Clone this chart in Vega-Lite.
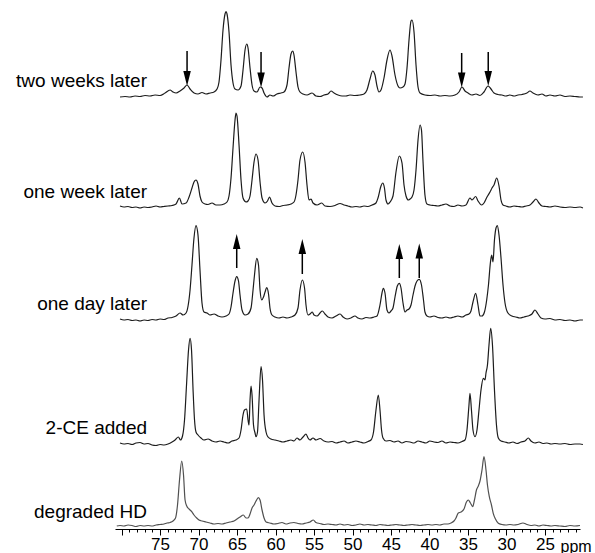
{
"$schema": "https://vega.github.io/schema/vega-lite/v6.json",
"width": 465, "height": 529,
"autosize": {"type": "none"},
"padding": {"left": 115, "top": 0, "right": 15, "bottom": 24},
"background": "white",
"config": {"view": {"stroke": null}},
"datasets": {
"spec": [
{"s":"A","x":80.20,"y":432},{"s":"A","x":79.55,"y":432.5},{"s":"A","x":78.90,"y":432},{"s":"A","x":78.25,"y":433},{"s":"A","x":77.60,"y":432.5},{"s":"A","x":76.95,"y":433.5},{"s":"A","x":76.30,"y":433},{"s":"A","x":75.65,"y":434},{"s":"A","x":75.00,"y":433.5},{"s":"A","x":74.35,"y":436},{"s":"A","x":73.70,"y":439},{"s":"A","x":73.31,"y":437},{"s":"A","x":72.92,"y":436},{"s":"A","x":72.40,"y":438},{"s":"A","x":71.88,"y":441},{"s":"A","x":71.49,"y":444},{"s":"A","x":71.10,"y":440},{"s":"A","x":70.58,"y":436},{"s":"A","x":70.07,"y":435},{"s":"A","x":69.55,"y":436.5},{"s":"A","x":69.03,"y":435},{"s":"A","x":68.51,"y":436},{"s":"A","x":67.99,"y":437},{"s":"A","x":67.60,"y":440},{"s":"A","x":67.34,"y":447},{"s":"A","x":67.08,"y":469},{"s":"A","x":66.82,"y":499},{"s":"A","x":66.56,"y":515},{"s":"A","x":66.43,"y":517.3},{"s":"A","x":66.30,"y":515},{"s":"A","x":66.04,"y":497},{"s":"A","x":65.78,"y":464},{"s":"A","x":65.52,"y":446},{"s":"A","x":65.26,"y":440},{"s":"A","x":64.87,"y":439},{"s":"A","x":64.48,"y":443},{"s":"A","x":64.22,"y":459},{"s":"A","x":63.96,"y":479},{"s":"A","x":63.74,"y":485},{"s":"A","x":63.57,"y":481},{"s":"A","x":63.31,"y":461},{"s":"A","x":63.05,"y":444},{"s":"A","x":62.79,"y":438},{"s":"A","x":62.40,"y":437},{"s":"A","x":62.01,"y":442},{"s":"A","x":61.75,"y":441},{"s":"A","x":61.49,"y":436},{"s":"A","x":61.10,"y":432},{"s":"A","x":60.72,"y":434},{"s":"A","x":60.33,"y":433},{"s":"A","x":59.81,"y":435},{"s":"A","x":59.29,"y":436},{"s":"A","x":58.90,"y":437},{"s":"A","x":58.51,"y":444},{"s":"A","x":58.25,"y":461},{"s":"A","x":57.99,"y":475},{"s":"A","x":57.77,"y":478},{"s":"A","x":57.60,"y":474},{"s":"A","x":57.34,"y":457},{"s":"A","x":57.08,"y":442},{"s":"A","x":56.82,"y":437},{"s":"A","x":56.43,"y":435},{"s":"A","x":55.91,"y":434},{"s":"A","x":55.26,"y":436},{"s":"A","x":54.74,"y":433},{"s":"A","x":54.22,"y":432.5},{"s":"A","x":53.70,"y":434},{"s":"A","x":53.18,"y":435},{"s":"A","x":52.79,"y":438},{"s":"A","x":52.40,"y":436},{"s":"A","x":51.88,"y":434},{"s":"A","x":51.36,"y":433},{"s":"A","x":50.85,"y":433},{"s":"A","x":50.33,"y":434},{"s":"A","x":49.68,"y":433.5},{"s":"A","x":49.03,"y":434},{"s":"A","x":48.51,"y":435},{"s":"A","x":48.12,"y":439},{"s":"A","x":47.73,"y":450},{"s":"A","x":47.38,"y":458},{"s":"A","x":47.08,"y":454},{"s":"A","x":46.82,"y":443},{"s":"A","x":46.56,"y":437},{"s":"A","x":46.30,"y":439},{"s":"A","x":45.91,"y":451},{"s":"A","x":45.52,"y":469},{"s":"A","x":45.13,"y":479},{"s":"A","x":44.87,"y":473},{"s":"A","x":44.48,"y":454},{"s":"A","x":44.09,"y":443},{"s":"A","x":43.83,"y":441},{"s":"A","x":43.44,"y":442},{"s":"A","x":43.18,"y":445},{"s":"A","x":42.92,"y":461},{"s":"A","x":42.66,"y":489},{"s":"A","x":42.40,"y":508},{"s":"A","x":42.27,"y":509},{"s":"A","x":42.01,"y":497},{"s":"A","x":41.75,"y":464},{"s":"A","x":41.49,"y":442},{"s":"A","x":41.23,"y":436},{"s":"A","x":40.59,"y":434},{"s":"A","x":39.94,"y":433.5},{"s":"A","x":39.29,"y":434},{"s":"A","x":38.64,"y":433},{"s":"A","x":37.99,"y":433.5},{"s":"A","x":37.34,"y":433},{"s":"A","x":36.69,"y":434},{"s":"A","x":36.17,"y":437},{"s":"A","x":35.78,"y":442},{"s":"A","x":35.39,"y":438},{"s":"A","x":35.00,"y":436},{"s":"A","x":34.48,"y":434},{"s":"A","x":33.96,"y":435},{"s":"A","x":33.44,"y":433.5},{"s":"A","x":32.92,"y":437},{"s":"A","x":32.40,"y":443},{"s":"A","x":32.01,"y":440},{"s":"A","x":31.62,"y":436},{"s":"A","x":31.11,"y":434.5},{"s":"A","x":30.59,"y":434},{"s":"A","x":30.07,"y":433},{"s":"A","x":29.55,"y":434},{"s":"A","x":29.03,"y":433},{"s":"A","x":28.51,"y":434},{"s":"A","x":27.99,"y":434.5},{"s":"A","x":27.34,"y":436},{"s":"A","x":26.95,"y":438},{"s":"A","x":26.56,"y":436},{"s":"A","x":25.91,"y":434},{"s":"A","x":25.39,"y":435},{"s":"A","x":24.87,"y":433},{"s":"A","x":24.35,"y":434},{"s":"A","x":23.70,"y":433},{"s":"A","x":23.05,"y":434},{"s":"A","x":22.40,"y":432.5},{"s":"A","x":21.75,"y":433},{"s":"A","x":21.10,"y":432.5},{"s":"A","x":20.45,"y":432},{"s":"A","x":20.07,"y":432},
{"s":"B","x":80.20,"y":323},{"s":"B","x":79.68,"y":322},{"s":"B","x":79.16,"y":322.5},{"s":"B","x":78.64,"y":321.5},{"s":"B","x":78.12,"y":322},{"s":"B","x":77.60,"y":321},{"s":"B","x":77.08,"y":322},{"s":"B","x":76.56,"y":321.5},{"s":"B","x":76.04,"y":322},{"s":"B","x":75.52,"y":323},{"s":"B","x":75.00,"y":322},{"s":"B","x":74.48,"y":322.5},{"s":"B","x":73.96,"y":323},{"s":"B","x":73.44,"y":323.5},{"s":"B","x":72.92,"y":325},{"s":"B","x":72.49,"y":331},{"s":"B","x":72.14,"y":325},{"s":"B","x":71.62,"y":326},{"s":"B","x":71.23,"y":332},{"s":"B","x":70.85,"y":341},{"s":"B","x":70.59,"y":347},{"s":"B","x":70.33,"y":349},{"s":"B","x":70.07,"y":345},{"s":"B","x":69.81,"y":333},{"s":"B","x":69.55,"y":327},{"s":"B","x":69.16,"y":325},{"s":"B","x":68.77,"y":324.5},{"s":"B","x":68.25,"y":326},{"s":"B","x":67.73,"y":324},{"s":"B","x":67.21,"y":324},{"s":"B","x":66.69,"y":325},{"s":"B","x":66.30,"y":327},{"s":"B","x":66.04,"y":333},{"s":"B","x":65.78,"y":351},{"s":"B","x":65.52,"y":381},{"s":"B","x":65.26,"y":409},{"s":"B","x":65.13,"y":416},{"s":"B","x":65.00,"y":413},{"s":"B","x":64.74,"y":384},{"s":"B","x":64.48,"y":349},{"s":"B","x":64.22,"y":331},{"s":"B","x":63.83,"y":327},{"s":"B","x":63.57,"y":328},{"s":"B","x":63.31,"y":333},{"s":"B","x":63.05,"y":349},{"s":"B","x":62.79,"y":367},{"s":"B","x":62.53,"y":375},{"s":"B","x":62.27,"y":369},{"s":"B","x":62.01,"y":347},{"s":"B","x":61.75,"y":331},{"s":"B","x":61.36,"y":326},{"s":"B","x":61.04,"y":328},{"s":"B","x":60.78,"y":332},{"s":"B","x":60.46,"y":326},{"s":"B","x":60.07,"y":323},{"s":"B","x":59.55,"y":322.5},{"s":"B","x":59.03,"y":323.5},{"s":"B","x":58.51,"y":324},{"s":"B","x":57.99,"y":325},{"s":"B","x":57.60,"y":327},{"s":"B","x":57.34,"y":334},{"s":"B","x":57.08,"y":349},{"s":"B","x":56.82,"y":369},{"s":"B","x":56.47,"y":377},{"s":"B","x":56.17,"y":367},{"s":"B","x":55.91,"y":344},{"s":"B","x":55.65,"y":329},{"s":"B","x":55.39,"y":330},{"s":"B","x":55.13,"y":326},{"s":"B","x":54.61,"y":324},{"s":"B","x":54.00,"y":326},{"s":"B","x":53.57,"y":323},{"s":"B","x":52.92,"y":322.5},{"s":"B","x":52.27,"y":323.5},{"s":"B","x":51.62,"y":325.5},{"s":"B","x":51.10,"y":324},{"s":"B","x":50.59,"y":323},{"s":"B","x":50.07,"y":322},{"s":"B","x":49.55,"y":322.5},{"s":"B","x":49.03,"y":322},{"s":"B","x":48.51,"y":323},{"s":"B","x":47.99,"y":322.5},{"s":"B","x":47.47,"y":324},{"s":"B","x":46.95,"y":326},{"s":"B","x":46.69,"y":331},{"s":"B","x":46.30,"y":343},{"s":"B","x":46.08,"y":346},{"s":"B","x":45.85,"y":341},{"s":"B","x":45.65,"y":329},{"s":"B","x":45.39,"y":325},{"s":"B","x":45.13,"y":327},{"s":"B","x":44.74,"y":333},{"s":"B","x":44.35,"y":357},{"s":"B","x":43.92,"y":373},{"s":"B","x":43.57,"y":366},{"s":"B","x":43.31,"y":344},{"s":"B","x":43.05,"y":333},{"s":"B","x":42.75,"y":329},{"s":"B","x":42.53,"y":330},{"s":"B","x":42.27,"y":332},{"s":"B","x":42.01,"y":339},{"s":"B","x":41.75,"y":359},{"s":"B","x":41.49,"y":389},{"s":"B","x":41.23,"y":404},{"s":"B","x":41.04,"y":399},{"s":"B","x":40.85,"y":369},{"s":"B","x":40.59,"y":334},{"s":"B","x":40.33,"y":325},{"s":"B","x":39.94,"y":324},{"s":"B","x":39.42,"y":323.5},{"s":"B","x":38.90,"y":323},{"s":"B","x":38.38,"y":324},{"s":"B","x":37.86,"y":325},{"s":"B","x":37.34,"y":323},{"s":"B","x":36.82,"y":322.5},{"s":"B","x":36.30,"y":324},{"s":"B","x":35.78,"y":323},{"s":"B","x":35.26,"y":324},{"s":"B","x":34.74,"y":331},{"s":"B","x":34.48,"y":329},{"s":"B","x":34.00,"y":332.5},{"s":"B","x":33.70,"y":328},{"s":"B","x":33.22,"y":324},{"s":"B","x":32.92,"y":326},{"s":"B","x":32.53,"y":332},{"s":"B","x":32.14,"y":337},{"s":"B","x":31.88,"y":341},{"s":"B","x":31.62,"y":344},{"s":"B","x":31.27,"y":351},{"s":"B","x":30.97,"y":343},{"s":"B","x":30.71,"y":329},{"s":"B","x":30.45,"y":324},{"s":"B","x":30.07,"y":323},{"s":"B","x":29.55,"y":322},{"s":"B","x":29.03,"y":323},{"s":"B","x":28.51,"y":322.5},{"s":"B","x":27.99,"y":322},{"s":"B","x":27.47,"y":323},{"s":"B","x":26.95,"y":324},{"s":"B","x":26.56,"y":327},{"s":"B","x":26.17,"y":330},{"s":"B","x":25.78,"y":326},{"s":"B","x":25.39,"y":323},{"s":"B","x":24.87,"y":322.5},{"s":"B","x":24.35,"y":322},{"s":"B","x":23.70,"y":323},{"s":"B","x":23.05,"y":322},{"s":"B","x":22.40,"y":321.5},{"s":"B","x":21.75,"y":322},{"s":"B","x":21.10,"y":321.5},{"s":"B","x":20.45,"y":322},{"s":"B","x":20.07,"y":321},
{"s":"C","x":80.20,"y":210},{"s":"C","x":79.68,"y":209},{"s":"C","x":79.16,"y":209.5},{"s":"C","x":78.64,"y":208.5},{"s":"C","x":78.12,"y":209},{"s":"C","x":77.60,"y":208},{"s":"C","x":77.08,"y":209},{"s":"C","x":76.56,"y":208.5},{"s":"C","x":76.04,"y":209.5},{"s":"C","x":75.52,"y":209},{"s":"C","x":75.00,"y":210},{"s":"C","x":74.48,"y":209.5},{"s":"C","x":73.96,"y":211},{"s":"C","x":73.44,"y":211.5},{"s":"C","x":72.92,"y":213},{"s":"C","x":72.40,"y":216},{"s":"C","x":72.01,"y":214},{"s":"C","x":71.62,"y":216},{"s":"C","x":71.36,"y":223},{"s":"C","x":71.10,"y":239},{"s":"C","x":70.85,"y":264},{"s":"C","x":70.59,"y":291},{"s":"C","x":70.33,"y":303.3},{"s":"C","x":70.07,"y":294},{"s":"C","x":69.81,"y":259},{"s":"C","x":69.55,"y":226},{"s":"C","x":69.29,"y":217},{"s":"C","x":68.90,"y":216},{"s":"C","x":68.51,"y":214},{"s":"C","x":67.99,"y":215},{"s":"C","x":67.47,"y":213},{"s":"C","x":66.95,"y":212},{"s":"C","x":66.43,"y":213},{"s":"C","x":66.04,"y":215},{"s":"C","x":65.78,"y":222},{"s":"C","x":65.52,"y":236},{"s":"C","x":65.26,"y":248},{"s":"C","x":65.04,"y":252.3},{"s":"C","x":64.81,"y":248},{"s":"C","x":64.61,"y":234},{"s":"C","x":64.35,"y":219},{"s":"C","x":63.96,"y":214},{"s":"C","x":63.57,"y":215},{"s":"C","x":63.18,"y":221},{"s":"C","x":62.92,"y":239},{"s":"C","x":62.73,"y":254},{"s":"C","x":62.44,"y":270.7},{"s":"C","x":62.21,"y":264},{"s":"C","x":62.01,"y":239},{"s":"C","x":61.79,"y":229},{"s":"C","x":61.56,"y":232},{"s":"C","x":61.36,"y":237},{"s":"C","x":61.14,"y":241.3},{"s":"C","x":60.91,"y":235},{"s":"C","x":60.72,"y":221},{"s":"C","x":60.46,"y":214},{"s":"C","x":60.07,"y":212},{"s":"C","x":59.55,"y":211},{"s":"C","x":59.03,"y":212},{"s":"C","x":58.51,"y":211},{"s":"C","x":57.99,"y":212},{"s":"C","x":57.47,"y":214},{"s":"C","x":57.08,"y":221},{"s":"C","x":56.82,"y":239},{"s":"C","x":56.52,"y":249},{"s":"C","x":56.23,"y":241},{"s":"C","x":56.04,"y":224},{"s":"C","x":55.78,"y":214},{"s":"C","x":55.52,"y":215},{"s":"C","x":55.22,"y":217},{"s":"C","x":55.00,"y":214},{"s":"C","x":54.61,"y":213},{"s":"C","x":54.22,"y":216},{"s":"C","x":53.92,"y":218},{"s":"C","x":53.57,"y":215},{"s":"C","x":53.18,"y":212},{"s":"C","x":52.66,"y":211},{"s":"C","x":52.14,"y":213},{"s":"C","x":51.62,"y":215},{"s":"C","x":51.23,"y":212},{"s":"C","x":50.71,"y":210},{"s":"C","x":50.20,"y":211},{"s":"C","x":49.68,"y":213},{"s":"C","x":49.29,"y":211},{"s":"C","x":48.77,"y":210},{"s":"C","x":48.25,"y":211.5},{"s":"C","x":47.73,"y":211},{"s":"C","x":47.21,"y":212},{"s":"C","x":46.82,"y":213},{"s":"C","x":46.43,"y":224},{"s":"C","x":46.17,"y":236},{"s":"C","x":46.00,"y":240.7},{"s":"C","x":45.78,"y":236},{"s":"C","x":45.52,"y":219},{"s":"C","x":45.26,"y":216},{"s":"C","x":45.00,"y":218},{"s":"C","x":44.74,"y":221},{"s":"C","x":44.48,"y":232},{"s":"C","x":44.18,"y":243},{"s":"C","x":43.92,"y":245.7},{"s":"C","x":43.70,"y":241},{"s":"C","x":43.44,"y":226},{"s":"C","x":43.18,"y":217},{"s":"C","x":42.92,"y":219},{"s":"C","x":42.66,"y":220},{"s":"C","x":42.40,"y":224},{"s":"C","x":42.14,"y":234},{"s":"C","x":41.88,"y":243},{"s":"C","x":41.62,"y":248},{"s":"C","x":41.33,"y":249.7},{"s":"C","x":41.04,"y":244},{"s":"C","x":40.78,"y":229},{"s":"C","x":40.59,"y":217},{"s":"C","x":40.33,"y":213},{"s":"C","x":39.94,"y":212},{"s":"C","x":39.42,"y":213},{"s":"C","x":38.90,"y":211.5},{"s":"C","x":38.38,"y":211},{"s":"C","x":37.86,"y":212},{"s":"C","x":37.34,"y":211},{"s":"C","x":36.82,"y":212},{"s":"C","x":36.30,"y":213},{"s":"C","x":35.78,"y":212},{"s":"C","x":35.26,"y":214},{"s":"C","x":34.87,"y":215},{"s":"C","x":34.61,"y":218},{"s":"C","x":34.35,"y":227},{"s":"C","x":34.00,"y":235.7},{"s":"C","x":33.70,"y":224},{"s":"C","x":33.44,"y":213},{"s":"C","x":33.18,"y":213},{"s":"C","x":32.86,"y":217},{"s":"C","x":32.57,"y":229},{"s":"C","x":32.34,"y":244},{"s":"C","x":32.08,"y":267},{"s":"C","x":31.92,"y":274},{"s":"C","x":31.75,"y":267},{"s":"C","x":31.56,"y":289},{"s":"C","x":31.36,"y":301},{"s":"C","x":31.19,"y":303.3},{"s":"C","x":30.97,"y":294},{"s":"C","x":30.71,"y":271},{"s":"C","x":30.45,"y":244},{"s":"C","x":30.19,"y":226},{"s":"C","x":29.81,"y":216},{"s":"C","x":29.29,"y":213},{"s":"C","x":28.77,"y":212},{"s":"C","x":28.25,"y":211},{"s":"C","x":27.73,"y":212},{"s":"C","x":27.21,"y":213},{"s":"C","x":26.69,"y":215},{"s":"C","x":26.30,"y":219},{"s":"C","x":25.91,"y":215},{"s":"C","x":25.52,"y":211},{"s":"C","x":25.00,"y":210},{"s":"C","x":24.35,"y":210.5},{"s":"C","x":23.70,"y":209},{"s":"C","x":23.05,"y":209.5},{"s":"C","x":22.40,"y":208.5},{"s":"C","x":21.75,"y":209},{"s":"C","x":21.10,"y":208},{"s":"C","x":20.45,"y":209},{"s":"C","x":20.07,"y":209},
{"s":"D","x":80.20,"y":86},{"s":"D","x":79.68,"y":85},{"s":"D","x":79.16,"y":85.5},{"s":"D","x":78.64,"y":84.5},{"s":"D","x":78.12,"y":86},{"s":"D","x":77.60,"y":86.5},{"s":"D","x":77.08,"y":85},{"s":"D","x":76.56,"y":85.5},{"s":"D","x":76.04,"y":84},{"s":"D","x":75.52,"y":83.5},{"s":"D","x":75.00,"y":84.5},{"s":"D","x":74.48,"y":84},{"s":"D","x":73.96,"y":85},{"s":"D","x":73.44,"y":87},{"s":"D","x":73.05,"y":89},{"s":"D","x":72.62,"y":92},{"s":"D","x":72.34,"y":89},{"s":"D","x":72.08,"y":93},{"s":"D","x":71.82,"y":109},{"s":"D","x":71.56,"y":144},{"s":"D","x":71.30,"y":179},{"s":"D","x":71.10,"y":190.7},{"s":"D","x":70.91,"y":179},{"s":"D","x":70.71,"y":139},{"s":"D","x":70.52,"y":109},{"s":"D","x":70.33,"y":97},{"s":"D","x":70.07,"y":94},{"s":"D","x":69.68,"y":91},{"s":"D","x":69.29,"y":89},{"s":"D","x":68.77,"y":90},{"s":"D","x":68.25,"y":88},{"s":"D","x":67.73,"y":87},{"s":"D","x":67.21,"y":88},{"s":"D","x":66.69,"y":87},{"s":"D","x":66.17,"y":86},{"s":"D","x":65.65,"y":88},{"s":"D","x":65.13,"y":89},{"s":"D","x":64.74,"y":91},{"s":"D","x":64.48,"y":99},{"s":"D","x":64.22,"y":114},{"s":"D","x":64.03,"y":119},{"s":"D","x":63.74,"y":120},{"s":"D","x":63.57,"y":109},{"s":"D","x":63.44,"y":104},{"s":"D","x":63.31,"y":129},{"s":"D","x":63.18,"y":143},{"s":"D","x":63.05,"y":134},{"s":"D","x":62.86,"y":104},{"s":"D","x":62.66,"y":96},{"s":"D","x":62.53,"y":92.3},{"s":"D","x":62.34,"y":97},{"s":"D","x":62.14,"y":129},{"s":"D","x":61.88,"y":162.3},{"s":"D","x":61.69,"y":149},{"s":"D","x":61.49,"y":114},{"s":"D","x":61.23,"y":97},{"s":"D","x":60.97,"y":92},{"s":"D","x":60.59,"y":90},{"s":"D","x":60.07,"y":89},{"s":"D","x":59.55,"y":88},{"s":"D","x":59.03,"y":87},{"s":"D","x":58.51,"y":88},{"s":"D","x":57.99,"y":89},{"s":"D","x":57.60,"y":88},{"s":"D","x":57.21,"y":91},{"s":"D","x":56.82,"y":89},{"s":"D","x":56.43,"y":92},{"s":"D","x":56.04,"y":95},{"s":"D","x":55.78,"y":91},{"s":"D","x":55.52,"y":89},{"s":"D","x":55.13,"y":91},{"s":"D","x":54.74,"y":89},{"s":"D","x":54.22,"y":90.5},{"s":"D","x":53.70,"y":88},{"s":"D","x":53.18,"y":87},{"s":"D","x":52.66,"y":87.5},{"s":"D","x":52.14,"y":86},{"s":"D","x":51.62,"y":87},{"s":"D","x":51.10,"y":88},{"s":"D","x":50.59,"y":86},{"s":"D","x":50.07,"y":87},{"s":"D","x":49.55,"y":88},{"s":"D","x":49.03,"y":87},{"s":"D","x":48.51,"y":86},{"s":"D","x":47.99,"y":87.5},{"s":"D","x":47.60,"y":89},{"s":"D","x":47.27,"y":97},{"s":"D","x":46.95,"y":119},{"s":"D","x":46.65,"y":134},{"s":"D","x":46.43,"y":119},{"s":"D","x":46.23,"y":99},{"s":"D","x":46.04,"y":91},{"s":"D","x":45.65,"y":88},{"s":"D","x":45.13,"y":88.5},{"s":"D","x":44.61,"y":87},{"s":"D","x":44.09,"y":88},{"s":"D","x":43.57,"y":86},{"s":"D","x":43.05,"y":87.5},{"s":"D","x":42.53,"y":87},{"s":"D","x":42.01,"y":86},{"s":"D","x":41.49,"y":88},{"s":"D","x":40.97,"y":87},{"s":"D","x":40.46,"y":86},{"s":"D","x":39.94,"y":88},{"s":"D","x":39.42,"y":87},{"s":"D","x":38.90,"y":86.5},{"s":"D","x":38.38,"y":88},{"s":"D","x":37.86,"y":86},{"s":"D","x":37.34,"y":87},{"s":"D","x":36.82,"y":86.5},{"s":"D","x":36.30,"y":86},{"s":"D","x":35.78,"y":87.5},{"s":"D","x":35.39,"y":89},{"s":"D","x":35.13,"y":99},{"s":"D","x":34.87,"y":124},{"s":"D","x":34.74,"y":135.7},{"s":"D","x":34.55,"y":119},{"s":"D","x":34.35,"y":99},{"s":"D","x":34.09,"y":92.3},{"s":"D","x":33.83,"y":99},{"s":"D","x":33.57,"y":119},{"s":"D","x":33.31,"y":139},{"s":"D","x":33.01,"y":150.7},{"s":"D","x":32.79,"y":149},{"s":"D","x":32.66,"y":156},{"s":"D","x":32.47,"y":164},{"s":"D","x":32.27,"y":184},{"s":"D","x":32.05,"y":200.7},{"s":"D","x":31.82,"y":184},{"s":"D","x":31.56,"y":139},{"s":"D","x":31.30,"y":104},{"s":"D","x":31.06,"y":91},{"s":"D","x":30.71,"y":88},{"s":"D","x":30.19,"y":87},{"s":"D","x":29.68,"y":86},{"s":"D","x":29.16,"y":87},{"s":"D","x":28.64,"y":85.5},{"s":"D","x":28.12,"y":87},{"s":"D","x":27.60,"y":88},{"s":"D","x":27.17,"y":91},{"s":"D","x":26.82,"y":88},{"s":"D","x":26.30,"y":86},{"s":"D","x":25.78,"y":87},{"s":"D","x":25.26,"y":85.5},{"s":"D","x":24.74,"y":86},{"s":"D","x":24.22,"y":85},{"s":"D","x":23.70,"y":85.5},{"s":"D","x":23.05,"y":85},{"s":"D","x":22.40,"y":85.5},{"s":"D","x":21.75,"y":84.5},{"s":"D","x":21.10,"y":85},{"s":"D","x":20.45,"y":85},{"s":"D","x":20.07,"y":84.5},
{"s":"E","x":80.62,"y":3},{"s":"E","x":80.20,"y":3.5},{"s":"E","x":79.68,"y":3},{"s":"E","x":79.16,"y":4},{"s":"E","x":78.64,"y":3.5},{"s":"E","x":78.12,"y":2.5},{"s":"E","x":77.60,"y":3.5},{"s":"E","x":77.08,"y":3},{"s":"E","x":76.56,"y":3.5},{"s":"E","x":76.04,"y":3},{"s":"E","x":75.52,"y":4},{"s":"E","x":75.00,"y":4.5},{"s":"E","x":74.48,"y":5},{"s":"E","x":74.09,"y":6},{"s":"E","x":73.70,"y":6.5},{"s":"E","x":73.31,"y":8},{"s":"E","x":72.99,"y":11},{"s":"E","x":72.73,"y":24},{"s":"E","x":72.47,"y":49},{"s":"E","x":72.18,"y":68},{"s":"E","x":71.95,"y":54},{"s":"E","x":71.75,"y":29},{"s":"E","x":71.53,"y":23},{"s":"E","x":71.23,"y":20},{"s":"E","x":70.88,"y":17.3},{"s":"E","x":70.59,"y":14},{"s":"E","x":70.24,"y":11},{"s":"E","x":69.94,"y":9},{"s":"E","x":69.55,"y":8},{"s":"E","x":69.03,"y":7},{"s":"E","x":68.51,"y":6},{"s":"E","x":67.99,"y":5},{"s":"E","x":67.47,"y":5.5},{"s":"E","x":66.95,"y":5},{"s":"E","x":66.43,"y":6},{"s":"E","x":65.91,"y":7},{"s":"E","x":65.39,"y":8},{"s":"E","x":65.00,"y":10},{"s":"E","x":64.61,"y":12},{"s":"E","x":64.18,"y":14},{"s":"E","x":63.83,"y":11},{"s":"E","x":63.57,"y":11},{"s":"E","x":63.31,"y":15},{"s":"E","x":63.05,"y":21},{"s":"E","x":62.79,"y":24},{"s":"E","x":62.53,"y":28},{"s":"E","x":62.23,"y":31.3},{"s":"E","x":62.01,"y":29},{"s":"E","x":61.75,"y":19},{"s":"E","x":61.49,"y":11},{"s":"E","x":61.23,"y":7},{"s":"E","x":60.72,"y":6},{"s":"E","x":60.20,"y":5},{"s":"E","x":59.68,"y":5.5},{"s":"E","x":59.16,"y":6.5},{"s":"E","x":58.64,"y":5},{"s":"E","x":58.12,"y":6},{"s":"E","x":57.60,"y":6.5},{"s":"E","x":57.08,"y":5.5},{"s":"E","x":56.56,"y":5},{"s":"E","x":56.04,"y":6},{"s":"E","x":55.52,"y":7},{"s":"E","x":55.09,"y":9},{"s":"E","x":54.74,"y":6.5},{"s":"E","x":54.22,"y":5.5},{"s":"E","x":53.70,"y":4.5},{"s":"E","x":53.18,"y":5},{"s":"E","x":52.66,"y":4.5},{"s":"E","x":52.14,"y":4},{"s":"E","x":51.62,"y":5},{"s":"E","x":51.10,"y":4},{"s":"E","x":50.59,"y":4.5},{"s":"E","x":50.07,"y":3.5},{"s":"E","x":49.55,"y":4},{"s":"E","x":49.03,"y":5},{"s":"E","x":48.51,"y":4},{"s":"E","x":47.99,"y":4.5},{"s":"E","x":47.47,"y":4},{"s":"E","x":46.95,"y":3.5},{"s":"E","x":46.43,"y":4.5},{"s":"E","x":45.91,"y":4},{"s":"E","x":45.39,"y":3.5},{"s":"E","x":44.87,"y":4},{"s":"E","x":44.35,"y":4.5},{"s":"E","x":43.83,"y":4},{"s":"E","x":43.31,"y":3.5},{"s":"E","x":42.79,"y":4},{"s":"E","x":42.27,"y":4.5},{"s":"E","x":41.75,"y":4},{"s":"E","x":41.23,"y":3.5},{"s":"E","x":40.72,"y":4},{"s":"E","x":40.20,"y":4.5},{"s":"E","x":39.68,"y":4},{"s":"E","x":39.16,"y":4.5},{"s":"E","x":38.64,"y":4},{"s":"E","x":38.12,"y":5},{"s":"E","x":37.60,"y":5},{"s":"E","x":37.21,"y":6},{"s":"E","x":36.82,"y":8},{"s":"E","x":36.56,"y":11},{"s":"E","x":36.26,"y":16},{"s":"E","x":35.91,"y":17},{"s":"E","x":35.52,"y":20},{"s":"E","x":35.20,"y":27},{"s":"E","x":34.96,"y":29},{"s":"E","x":34.68,"y":26},{"s":"E","x":34.39,"y":22.3},{"s":"E","x":34.16,"y":29},{"s":"E","x":33.90,"y":39},{"s":"E","x":33.66,"y":43},{"s":"E","x":33.44,"y":48},{"s":"E","x":33.18,"y":59},{"s":"E","x":32.92,"y":72.3},{"s":"E","x":32.66,"y":59},{"s":"E","x":32.47,"y":44},{"s":"E","x":32.23,"y":32.3},{"s":"E","x":31.95,"y":24},{"s":"E","x":31.72,"y":15.7},{"s":"E","x":31.43,"y":10},{"s":"E","x":31.06,"y":5.7},{"s":"E","x":30.59,"y":4.5},{"s":"E","x":30.07,"y":4},{"s":"E","x":29.55,"y":4.5},{"s":"E","x":29.03,"y":4},{"s":"E","x":28.51,"y":4.5},{"s":"E","x":27.86,"y":6},{"s":"E","x":27.34,"y":4.5},{"s":"E","x":26.82,"y":3.5},{"s":"E","x":26.30,"y":4},{"s":"E","x":25.78,"y":3},{"s":"E","x":25.26,"y":4},{"s":"E","x":24.74,"y":3.5},{"s":"E","x":24.22,"y":3},{"s":"E","x":23.70,"y":3.5},{"s":"E","x":23.05,"y":3},{"s":"E","x":22.40,"y":2.5},{"s":"E","x":21.75,"y":3.5},{"s":"E","x":21.10,"y":3},{"s":"E","x":20.45,"y":3.5}
],
"labels": [
{"label":"two weeks later","x":76.69,"y":441.7},
{"label":"one week later","x":76.69,"y":330.7},
{"label":"one day later","x":76.69,"y":219},
{"label":"2-CE added","x":76.69,"y":95},
{"label":"degraded HD","x":76.69,"y":11.3}
],
"arrows": [
{"x":71.49,"y":478,"y2":455,"yh":450.5,"dir":"down"},
{"x":61.88,"y":477,"y2":454,"yh":449,"dir":"down"},
{"x":35.82,"y":476,"y2":453,"yh":449,"dir":"down"},
{"x":32.37,"y":477,"y2":454,"yh":450.5,"dir":"down"},
{"x":65.04,"y":261,"y2":284,"yh":287.5,"dir":"up"},
{"x":56.52,"y":255,"y2":278,"yh":282.5,"dir":"up"},
{"x":43.92,"y":251,"y2":274,"yh":277.5,"dir":"up"},
{"x":41.33,"y":251,"y2":274,"yh":278,"dir":"up"}
]
},
"encoding": {
"x": {"field": "x", "type": "quantitative",
  "scale": {"domain": [80.85, 20.45], "nice": false, "zero": false},
  "axis": {
    "values": [21,22,23,24,25,26,27,28,29,30,31,32,33,34,35,36,37,38,39,40,41,42,43,44,45,46,47,48,49,50,51,52,53,54,55,56,57,58,59,60,61,62,63,64,65,66,67,68,69,70,71,72,73,74,75,76,77,78,79,80],
    "tickSize": {"condition": {"test": "datum.value % 5 === 0", "value": 6}, "value": 3},
    "labelExpr": "(datum.value % 5 === 0 && datum.value <= 75) ? datum.label : ''",
    "labelOverlap": false, "labelFlush": false,
    "labelFont": "Liberation Sans", "labelFontSize": 17, "labelColor": "black", "labelPadding": 1,
    "domainColor": "black", "tickColor": "black", "grid": false,
    "title": "ppm", "titleFont": "Liberation Sans", "titleFontSize": 16, "titleFontWeight": "normal",
    "titleColor": "black", "titleX": 445, "titleY": 22, "titleAlign": "left", "titleBaseline": "alphabetic", "titleAnchor": "start"
  }},
"y": {"field": "y", "type": "quantitative", "scale": {"domain": [0, 529], "nice": false, "zero": false}, "axis": null}
},
"layer": [
{"data": {"name": "spec"},
 "mark": {"type": "line", "interpolate": "monotone", "strokeWidth": 1.2},
 "encoding": {"color": {"field": "s", "type": "nominal", "scale": {"domain": ["A","B","C","D","E"], "range": ["#1c1c1c","#1c1c1c","#1c1c1c","#1c1c1c","#505050"]}, "legend": null}}},
{"data": {"name": "labels"},
 "mark": {"type": "text", "align": "right", "baseline": "alphabetic", "font": "Liberation Sans", "fontSize": 19, "color": "black"},
 "encoding": {"text": {"field": "label"}}},
{"data": {"name": "arrows"},
 "mark": {"type": "rule", "color": "black", "strokeWidth": 1.5},
 "encoding": {"y2": {"field": "y2"}}},
{"data": {"name": "arrows"},
 "mark": {"type": "point", "filled": true, "color": "black", "opacity": 1, "size": 225, "strokeWidth": 0},
 "encoding": {
   "y": {"field": "yh", "type": "quantitative", "scale": {"domain": [0, 529], "nice": false, "zero": false}, "axis": null},
   "shape": {"field": "dir", "type": "nominal", "scale": {"domain": ["down","up"], "range": ["M-0.5,-1L0.5,-1L0,1Z","M-0.5,1L0.5,1L0,-1Z"]}, "legend": null}}}
]
}
